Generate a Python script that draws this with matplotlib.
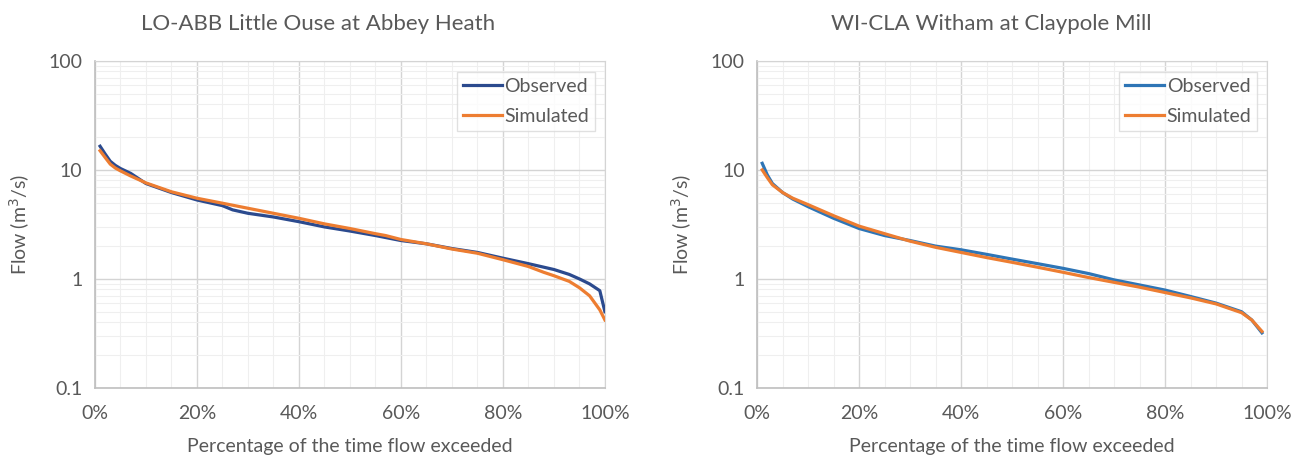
import matplotlib
matplotlib.use("Agg")
import matplotlib.pyplot as plt
from matplotlib.ticker import FixedLocator, FuncFormatter, MultipleLocator, LogLocator, NullFormatter

plt.rcParams['font.family'] = ['Lato', 'DejaVu Sans']

# ---- data: left (LO-ABB) ----
lo_x = [1, 2, 3, 4, 5, 7, 10, 15, 20, 25, 27, 30, 35, 40, 45, 50, 55, 60, 65, 70, 75, 80, 85, 90, 93, 95, 97, 99, 100]
lo_obs = [16.5, 14, 12, 11, 10.3, 9.3, 7.5, 6.2, 5.3, 4.7, 4.3, 4.0, 3.7, 3.35, 3.0, 2.75, 2.5, 2.25, 2.1, 1.9, 1.75, 1.55, 1.38, 1.22, 1.1, 1.0, 0.9, 0.78, 0.5]
lo_sim_x = [1, 2, 3, 4, 5, 7, 10, 15, 20, 25, 30, 35, 40, 45, 50, 55, 57, 60, 65, 70, 75, 80, 85, 88, 90, 93, 95, 97, 99, 100]
lo_sim = [15, 13, 11.3, 10.4, 9.8, 8.8, 7.6, 6.3, 5.5, 4.95, 4.45, 4.0, 3.6, 3.2, 2.9, 2.6, 2.5, 2.3, 2.1, 1.88, 1.72, 1.5, 1.3, 1.15, 1.07, 0.95, 0.83, 0.7, 0.52, 0.42]

# ---- data: right (WI-CLA) ----
wi_x = [1, 2, 3, 5, 7, 10, 15, 20, 25, 30, 35, 40, 45, 50, 55, 60, 65, 70, 75, 80, 85, 90, 95, 97, 99]
wi_obs = [11.5, 9, 7.5, 6.2, 5.4, 4.6, 3.6, 2.9, 2.5, 2.25, 2.0, 1.85, 1.68, 1.52, 1.38, 1.25, 1.12, 0.98, 0.88, 0.79, 0.69, 0.6, 0.5, 0.42, 0.32]
wi_sim = [10, 8.5, 7.3, 6.2, 5.5, 4.8, 3.8, 3.05, 2.6, 2.22, 1.95, 1.75, 1.57, 1.42, 1.28, 1.15, 1.03, 0.93, 0.84, 0.75, 0.67, 0.59, 0.49, 0.42, 0.33]

titles = ["LO-ABB Little Ouse at Abbey Heath", "WI-CLA Witham at Claypole Mill"]
x_ticks = [0, 20, 40, 60, 80, 100]
y_ticks = [0.1, 1, 10, 100]
y_ticklabels = ["0.1", "1", "10", "100"]

obs_colors = ["#2B4A8E", "#2E75B6"]
sim_color = "#ED7D31"
txt = "#595959"

fig = plt.figure(figsize=(12.92, 4.58), dpi=100)
ax1 = fig.add_axes([0.0735, 0.153, 0.3947, 0.714])
ax2 = fig.add_axes([0.586, 0.153, 0.3947, 0.714])

title_x = [0.437, 0.459]

series = [
    (ax1, lo_x, lo_obs, lo_sim_x, lo_sim),
    (ax2, wi_x, wi_obs, wi_x, wi_sim),
]

label_map = dict(zip([round(v, 3) for v in y_ticks], y_ticklabels))

for i, (ax, xo, yo, xs, ys) in enumerate(series):
    ax.plot(xo, yo, color=obs_colors[i], lw=2.3, label="Observed", zorder=3)
    ax.plot(xs, ys, color=sim_color, lw=2.3, label="Simulated", zorder=3)
    ax.set_yscale('log')
    ax.set_ylim(0.1, 100)
    ax.set_xlim(0, 100)
    ax.yaxis.set_major_locator(FixedLocator(y_ticks))
    ax.yaxis.set_major_formatter(FuncFormatter(lambda v, p: label_map.get(round(v, 3), "")))
    ax.yaxis.set_minor_locator(LogLocator(base=10, subs=range(2, 10)))
    ax.yaxis.set_minor_formatter(NullFormatter())
    ax.xaxis.set_major_locator(FixedLocator(x_ticks))
    ax.xaxis.set_major_formatter(FuncFormatter(lambda v, p: f"{int(v)}%"))
    ax.xaxis.set_minor_locator(MultipleLocator(5))
    ax.grid(which='major', color='#D4D4D4', lw=1.0, zorder=1)
    ax.grid(which='minor', color='#EFEFEF', lw=0.8, zorder=0)
    ax.tick_params(which='both', length=0, labelsize=14, colors=txt, pad=9)
    ax.tick_params(axis='x', pad=12)
    for s in ['top', 'right']:
        ax.spines[s].set_color('#D4D4D4')
    for s in ['left', 'bottom']:
        ax.spines[s].set_color('#BFBFBF')
        ax.spines[s].set_linewidth(1.2)
    ax.set_title(titles[i], fontsize=16, color=txt, pad=22, x=title_x[i])
    ax.set_xlabel("Percentage of the time flow exceeded", fontsize=14, color=txt, labelpad=12)
    ax.set_ylabel("Flow (m$^3$/s)", fontsize=14, color=txt, labelpad=12)
    leg = ax.legend(loc='upper right', fontsize=14, frameon=True, fancybox=False,
                    handlelength=2.0, handletextpad=0.15, borderpad=0.3,
                    labelspacing=0.65, bbox_to_anchor=(1.0, 0.995))
    leg.get_frame().set_edgecolor('#D9D9D9')
    leg.get_frame().set_linewidth(1.0)
    for t in leg.get_texts():
        t.set_color(txt)

fig.savefig("out.png", dpi=100)
